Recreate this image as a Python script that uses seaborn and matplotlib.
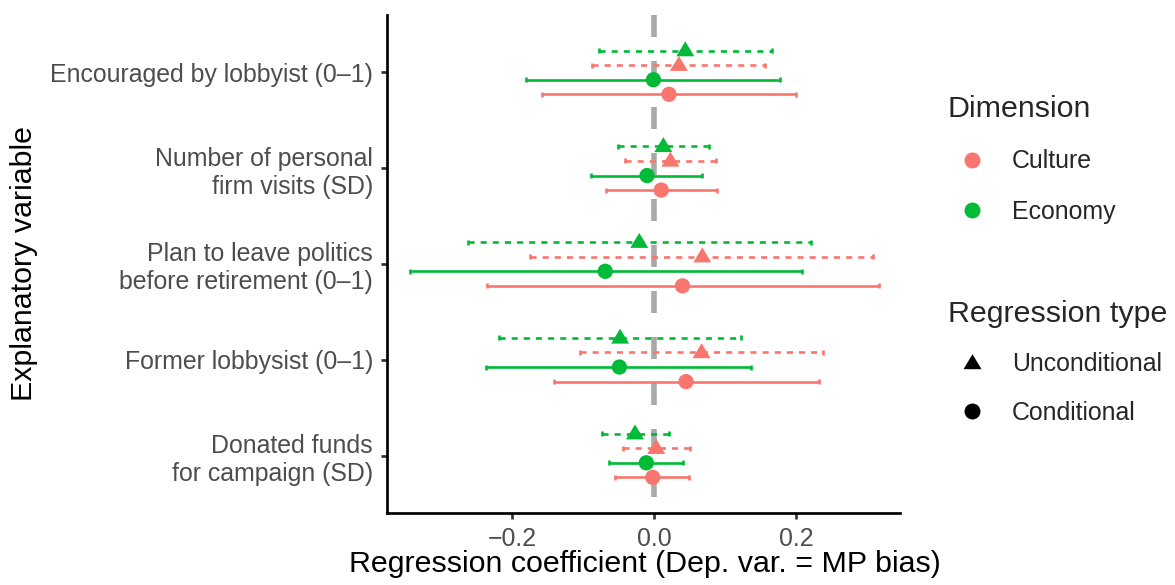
import matplotlib
matplotlib.use("Agg")
import matplotlib.pyplot as plt
from matplotlib.lines import Line2D
import numpy as np
import pandas as pd
import seaborn as sns

# Explanatory variables (top to bottom)
variables = [
    "Encouraged by lobbyist (0–1)",
    "Number of personal\nfirm visits (SD)",
    "Plan to leave politics\nbefore retirement (0–1)",
    "Former lobbysist (0–1)",
    "Donated funds\nfor campaign (SD)",
]

# Coefficients and 95% intervals, per dimension and regression type
culture_cond_est = [0.021, 0.010, 0.040, 0.045, -0.002]
culture_cond_lo = [-0.158, -0.068, -0.236, -0.142, -0.055]
culture_cond_hi = [0.200, 0.089, 0.317, 0.233, 0.049]

economy_cond_est = [-0.001, -0.010, -0.069, -0.049, -0.011]
economy_cond_lo = [-0.181, -0.089, -0.345, -0.237, -0.063]
economy_cond_hi = [0.178, 0.068, 0.208, 0.137, 0.041]

culture_uncond_est = [0.035, 0.023, 0.068, 0.067, 0.003]
culture_uncond_lo = [-0.087, -0.041, -0.175, -0.104, -0.044]
culture_uncond_hi = [0.157, 0.087, 0.309, 0.239, 0.050]

economy_uncond_est = [0.044, 0.013, -0.021, -0.048, -0.027]
economy_uncond_lo = [-0.078, -0.051, -0.263, -0.219, -0.073]
economy_uncond_hi = [0.166, 0.077, 0.221, 0.122, 0.021]

dimensions = ["Culture", "Economy"]
reg_types = ["Unconditional", "Conditional"]

palette = {"Culture": "#F8766D", "Economy": "#00BA38"}

series = {
    ("Economy", "Unconditional"): (economy_uncond_est, economy_uncond_lo, economy_uncond_hi),
    ("Culture", "Unconditional"): (culture_uncond_est, culture_uncond_lo, culture_uncond_hi),
    ("Economy", "Conditional"): (economy_cond_est, economy_cond_lo, economy_cond_hi),
    ("Culture", "Conditional"): (culture_cond_est, culture_cond_lo, culture_cond_hi),
}

# Dodge each group within a variable row
dodge_step = 0.152
rows = []
for k, ((dim, rtype), (est, lo, hi)) in enumerate(series.items()):
    offset = (k - 1.5) * dodge_step
    for i, var in enumerate(variables):
        rows.append(dict(variable=var, idx=i, dimension=dim, rtype=rtype,
                         est=est[i], lo=lo[i], hi=hi[i], ypos=i + offset))
df = pd.DataFrame(rows)

sns.set_theme(style="white")
plt.rcParams["font.family"] = ["Liberation Sans", "DejaVu Sans"]

W, H = 1175, 585
fig = plt.figure(figsize=(W / 100, H / 100), dpi=100)
ax = fig.add_axes([387 / W, 1 - 513 / H, (900 - 387) / W, (513 - 15) / H])

# Reference line at zero
ax.plot([0, 0], [-0.6, 4.6], color="#A9A9A9", lw=4.0, dashes=(3.96, 4.32),
        dash_capstyle="butt", solid_capstyle="butt", zorder=0)

# Confidence intervals
lw_ci = 1.9
cap = 0.026
for _, r in df.iterrows():
    col = palette[r.dimension]
    if r.rtype == "Unconditional":
        ax.plot([r.lo, r.hi], [r.ypos, r.ypos], color=col, lw=lw_ci,
                dashes=(2.3, 2.3), dash_capstyle="butt", zorder=1)
    else:
        ax.plot([r.lo, r.hi], [r.ypos, r.ypos], color=col, lw=lw_ci,
                solid_capstyle="butt", zorder=1)
    ax.vlines([r.lo, r.hi], r.ypos - cap, r.ypos + cap, color=col, lw=lw_ci, zorder=1)

# Point estimates
tri = [(0, 9.3), (-9, -5.7), (9, -5.7)]
sns.scatterplot(data=df[df.rtype == "Conditional"], x="est", y="ypos",
                hue="dimension", palette=palette, marker="o", s=121,
                linewidth=0, legend=False, ax=ax, zorder=3)
sns.scatterplot(data=df[df.rtype == "Unconditional"], x="est", y="ypos",
                hue="dimension", palette=palette, marker=tri, s=179,
                linewidth=0, legend=False, ax=ax, zorder=3)

ax.set_xlim(-0.377, 0.347)
ax.set_ylim(4.6, -0.6)
ax.set_yticks(range(len(variables)))
ax.set_yticklabels(variables)
ax.set_xticks([-0.2, 0.0, 0.2])
ax.set_xticklabels(["\u22120.2", "0.0", "0.2"])
ax.set_xlabel("")
ax.set_ylabel("")

for side in ["top", "right"]:
    ax.spines[side].set_visible(False)
for side in ["left", "bottom"]:
    ax.spines[side].set_color("black")
    ax.spines[side].set_linewidth(1.95)

ax.tick_params(axis="both", which="major", length=4.6, width=1.95, color="#333333",
               labelcolor="#4D4D4D", labelsize=17.9, pad=5.5,
               left=True, bottom=True)

fig.text(644.5 / W, 1 - 572 / H, "Regression coefficient (Dep. var. = MP bias)",
         ha="center", va="baseline", fontsize=21.9, color="black")
fig.text(24 / W, 1 - 264 / H, "Explanatory variable", rotation=90,
         ha="center", va="center", fontsize=21.9, color="black")

# Legends
dim_handles = [Line2D([], [], ls="", marker="o", ms=11.5, mew=0, color=palette[d])
               for d in dimensions]
type_handles = [
    Line2D([], [], ls="", marker=tri, ms=13.4, mew=0, color="black"),
    Line2D([], [], ls="", marker="o", ms=11.5, mew=0, color="black"),
]
common = dict(loc="upper left", frameon=False, fontsize=17.9, title_fontsize=21.9,
              alignment="left", borderpad=0, borderaxespad=0, handlelength=1.93,
              handletextpad=0.64, numpoints=1)
leg1 = fig.legend(dim_handles, dimensions, title="Dimension", labelspacing=1.06,
                  bbox_to_anchor=(948 / W, 1 - 95 / H), **common)
leg2 = fig.legend(type_handles, reg_types, title="Regression type", labelspacing=0.98,
                  bbox_to_anchor=(948 / W, 1 - 300 / H), **common)

fig.savefig("out.png", dpi=100)
